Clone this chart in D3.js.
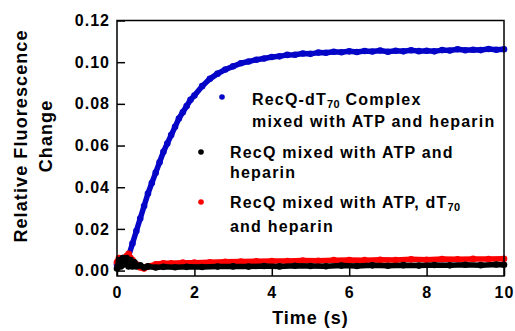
<!DOCTYPE html>
<html>
<head>
<meta charset="utf-8">
<script src="https://cdn.jsdelivr.net/npm/d3@7/dist/d3.min.js"></script>
<style>
  html, body { margin: 0; padding: 0; background: #fff; }
  text { font-family: Helvetica, Arial, 'Liberation Sans', sans-serif; font-weight: bold; fill: #000; }
</style>
</head>
<body>
<div id="chart"></div>
<script>
// values (time in s, relative fluorescence change)
const blueTime = [0, 0.1, 0.2, 0.3, 0.4, 0.5, 0.6, 0.7, 0.8, 0.9, 1.0, 1.1, 1.2, 1.3, 1.4, 1.5, 1.6, 1.7, 1.8, 1.9,
  2.0, 2.2, 2.4, 2.6, 2.8, 3.0, 3.2, 3.4, 3.6, 3.8, 4.0, 4.2, 4.4, 4.6, 4.8, 5.0, 5.2, 5.4, 5.6, 5.8,
  6.0, 6.2, 6.4, 6.6, 6.8, 7.0, 7.2, 7.4, 7.6, 7.8, 8.0, 8.2, 8.4, 8.6, 8.8, 9.0, 9.2, 9.4, 9.6, 9.8, 10.0];
const blueValues = [0.003, 0.004, 0.004, 0.007, 0.013, 0.019, 0.025, 0.031, 0.037, 0.042, 0.047, 0.052, 0.057, 0.061, 0.065, 0.069, 0.073, 0.076, 0.079, 0.082,
  0.084, 0.0885, 0.092, 0.0945, 0.0965, 0.098, 0.0995, 0.1003, 0.1012, 0.1018, 0.1025, 0.1028, 0.1035, 0.1036, 0.1042, 0.104, 0.1046, 0.1045, 0.105, 0.1048,
  0.1052, 0.1049, 0.1054, 0.1051, 0.1056, 0.105, 0.1055, 0.1052, 0.1057, 0.1053, 0.1055, 0.1052, 0.1058, 0.1056, 0.1062, 0.1057, 0.106, 0.1058, 0.1063, 0.106, 0.1062];

const redTime = [0, 0.05, 0.1, 0.15, 0.2, 0.25, 0.3, 0.35, 0.4, 0.5, 0.6, 0.7, 0.8, 1.0, 1.2, 1.4, 1.7, 2.0, 2.4, 2.8, 3.2, 3.6, 4.0,
  4.4, 4.8, 5.2, 5.6, 6.0, 6.4, 6.8, 7.2, 7.6, 8.0, 8.4, 8.8, 9.2, 9.6, 10.0];
const redValues = [0.004, 0.006, 0.005, 0.006, 0.006, 0.007, 0.008, 0.006, 0.005, 0.003, 0.0015, 0.001, 0.002, 0.003, 0.0035, 0.0035, 0.0038, 0.0038, 0.004, 0.0042, 0.0043, 0.0045, 0.0046,
  0.0046, 0.0048, 0.0047, 0.005, 0.0051, 0.005, 0.0052, 0.0051, 0.0054, 0.0052, 0.0055, 0.0054, 0.0056, 0.0055, 0.0057];

const blackTime = [0, 0.05, 0.1, 0.15, 0.2, 0.25, 0.3, 0.35, 0.4, 0.45, 0.5, 0.6, 0.7, 0.8, 1.0, 1.2, 1.5, 1.8, 2.2, 2.6, 3.0, 3.4, 3.8,
  4.2, 4.6, 5.0, 5.4, 5.8, 6.2, 6.6, 7.0, 7.4, 7.8, 8.2, 8.6, 9.0, 9.4, 9.8, 10.0];
const blackValues = [0.001, 0.005, 0.002, 0.006, 0.003, 0.006, 0.002, 0.005, 0.002, 0.004, 0.002, 0.0025, 0.0015, 0.002, 0.0015, 0.0018, 0.0016, 0.0018, 0.0017, 0.0019, 0.002, 0.0019, 0.0022,
  0.002, 0.0023, 0.0022, 0.0021, 0.0024, 0.0022, 0.0025, 0.0023, 0.0026, 0.0024, 0.0027, 0.0025, 0.0028, 0.0026, 0.0029, 0.0028];

const xTicks = [0, 2, 4, 6, 8, 10];
const yTicks = [0, 0.02, 0.04, 0.06, 0.08, 0.10, 0.12];

const series = [
  { name: 'blue', color: '#0505c8', time: blueTime, values: blueValues },
  { name: 'red', color: '#ff0000', time: redTime, values: redValues },
  { name: 'black', color: '#000000', time: blackTime, values: blackValues }
];

const width = 515, height = 331;
const margin = { left: 117, right: 11, top: 20.5, bottom: 55 };

const svg = d3.select('#chart').append('svg')
  .attr('width', width)
  .attr('height', height);

const x = d3.scaleLinear().domain([0, 10]).range([margin.left, width - margin.right]);
const y = d3.scaleLinear().domain([-0.0026, 0.12]).range([height - margin.bottom, margin.top]);

// data marks
const line = d3.line().x((d) => x(d[0])).y((d) => y(d[1]));
series.forEach((s) => {
  const pts = s.time.map((t, i) => [t, s.values[i]]);
  const g = svg.append('g');
  g.append('path')
    .attr('d', line(pts))
    .attr('fill', 'none')
    .attr('stroke', s.color)
    .attr('stroke-width', 5.5)
    .attr('stroke-linejoin', 'round')
    .attr('stroke-linecap', 'round');
  g.selectAll('circle')
    .data(pts)
    .join('circle')
    .attr('cx', (d) => x(d[0]))
    .attr('cy', (d) => y(d[1]))
    .attr('r', 3.3)
    .attr('fill', s.color);
});

// frame
svg.append('rect')
  .attr('x', x(0))
  .attr('y', y(0.12))
  .attr('width', x(10) - x(0))
  .attr('height', y(-0.0026) - y(0.12))
  .attr('fill', 'none')
  .attr('stroke', '#000')
  .attr('stroke-width', 1.5);

// axes, ticks point inward
const xAxis = svg.append('g')
  .attr('transform', `translate(0,${height - margin.bottom})`)
  .call(d3.axisBottom(x).tickValues(xTicks).tickSizeInner(-8).tickSizeOuter(0).tickPadding(16).tickFormat(d3.format('d')));
const yAxis = svg.append('g')
  .attr('transform', `translate(${margin.left},0)`)
  .call(d3.axisLeft(y).tickValues(yTicks).tickSizeInner(-8).tickSizeOuter(0).tickPadding(7).tickFormat(d3.format('.2f')));

[xAxis, yAxis].forEach((a) => {
  a.select('.domain').remove();
  a.selectAll('.tick line').attr('stroke', '#000').attr('stroke-width', 1.5);
  a.selectAll('.tick text')
    .attr('font-size', 16)
    .attr('letter-spacing', '1px')
    .style('font-family', 'Helvetica, Arial, "Liberation Sans", sans-serif')
    .style('font-weight', 'bold');
});
xAxis.selectAll('.tick text').attr('dy', '0.32em').attr('y', 17);

// axis titles
svg.append('text')
  .attr('x', (x(0) + x(10)) / 2)
  .attr('y', 324)
  .attr('text-anchor', 'middle')
  .attr('font-size', 18)
  .attr('letter-spacing', '1px')
  .text('Time (s)');

const yTitle = svg.append('text')
  .attr('transform', 'translate(0,136) rotate(-90)')
  .attr('text-anchor', 'middle')
  .attr('font-size', 18)
  .attr('letter-spacing', '1.1px');
yTitle.append('tspan').attr('x', 0).attr('y', 27).text('Relative Fluorescence');
yTitle.append('tspan').attr('x', 0).attr('y', 52).text('Change');

// legend
const legend = [
  { color: '#0505c8', dx: 222, dy: 97, tx: 252, lines: [['RecQ-dT', '70', ' Complex'], ['mixed with ATP and heparin']], base: [105, 127] },
  { color: '#000000', dx: 201, dy: 152, tx: 230, lines: [['RecQ mixed with ATP and'], ['heparin']], base: [158, 178] },
  { color: '#ff0000', dx: 201, dy: 202, tx: 230, lines: [['RecQ mixed with ATP, dT', '70', ''], ['and heparin']], base: [208, 232] }
];

legend.forEach((l) => {
  svg.append('circle').attr('cx', l.dx).attr('cy', l.dy).attr('r', 2.8).attr('fill', l.color);
  l.lines.forEach((parts, i) => {
    const t = svg.append('text')
      .attr('x', l.tx)
      .attr('y', l.base[i])
      .attr('font-size', 16)
      .attr('letter-spacing', '1.2px');
    t.append('tspan').text(parts[0]);
    if (parts.length > 1) {
      t.append('tspan').attr('font-size', 11).attr('dy', 3).attr('letter-spacing', '0.3px').text(parts[1]);
      t.append('tspan').attr('dy', -3).text(parts[2]);
    }
  });
});
</script>
</body>
</html>
